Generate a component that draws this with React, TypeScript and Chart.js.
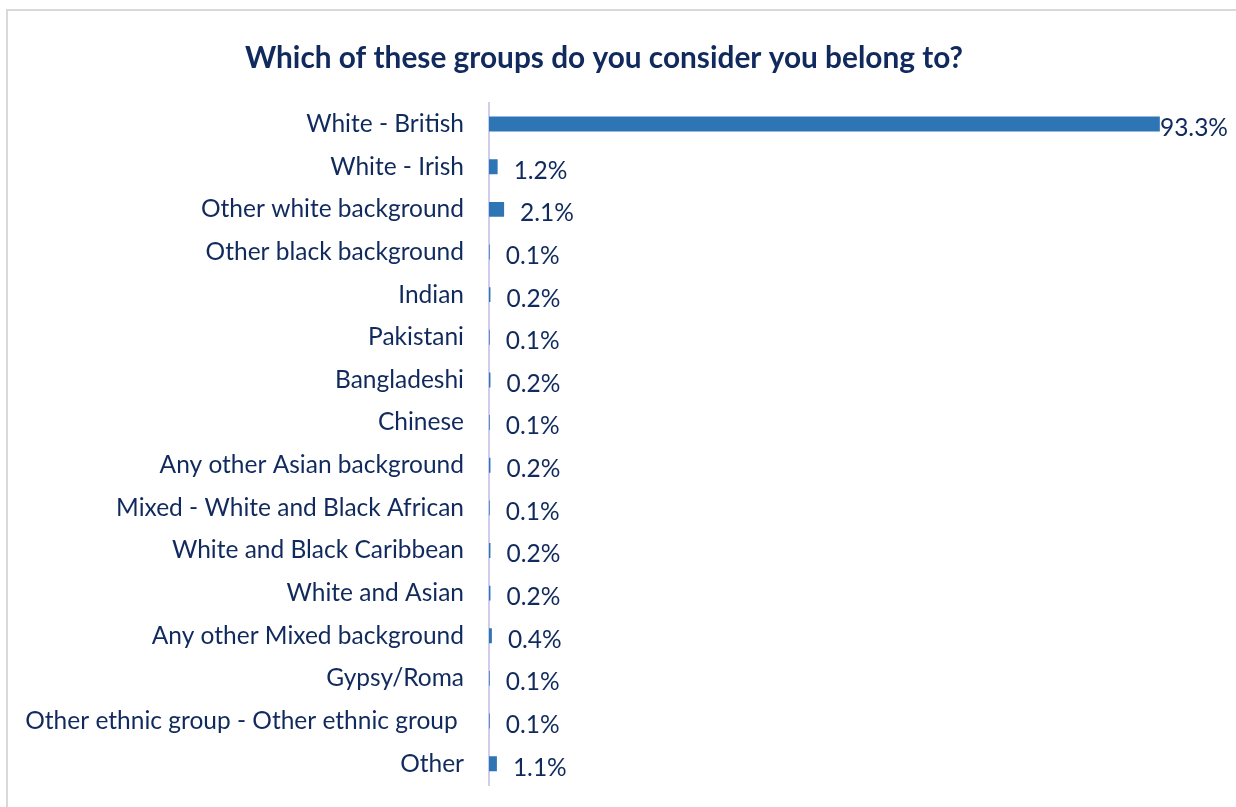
import React, { useEffect, useRef } from "react";
import { Chart, registerables } from "chart.js";

Chart.register(...registerables);

const TITLE = "Which of these groups do you consider you belong to?";
const categories = [
  "White - British",
  "White - Irish",
  "Other white background",
  "Other black background",
  "Indian",
  "Pakistani",
  "Bangladeshi",
  "Chinese",
  "Any other Asian background",
  "Mixed - White and Black African",
  "White and Black Caribbean",
  "White and Asian",
  "Any other Mixed background",
  "Gypsy/Roma",
  "Other ethnic group - Other ethnic group ",
  "Other",
];
const values = [93.3, 1.2, 2.1, 0.1, 0.2, 0.1, 0.2, 0.1, 0.2, 0.1, 0.2, 0.2, 0.4, 0.1, 0.1, 1.1];

const TEXT = "#112A5E";
const BAR = "#2E75B6";
const FONT = "Lato, 'Open Sans', sans-serif";
const W = 1236;
const H = 807;

export default function App() {
  const ref = useRef<HTMLCanvasElement | null>(null);
  useEffect(() => {
    if (!ref.current) return;
    const borderPlugin = {
      id: "outerBorder",
      beforeDraw(chart: any) {
        const ctx = chart.ctx;
        ctx.save();
        ctx.fillStyle = "#ffffff";
        ctx.fillRect(0, 0, chart.width, chart.height);
        ctx.strokeStyle = "#D9D9D9";
        ctx.lineWidth = 2;
        ctx.strokeRect(7, 10, chart.width + 20, chart.height + 20);
        ctx.restore();
      },
    };
    const labelPlugin = {
      id: "valueLabels",
      afterDatasetsDraw(chart: any) {
        const ctx = chart.ctx;
        const meta = chart.getDatasetMeta(0);
        ctx.save();
        ctx.font = `24.5px ${FONT}`;
        ctx.fillStyle = TEXT;
        ctx.textAlign = "left";
        ctx.textBaseline = "middle";
        meta.data.forEach((el: any, i: number) => {
          const txt = values[i].toFixed(1) + "%";
          const w = ctx.measureText(txt).width;
          let x = el.x + 16;
          if (x + w > chart.width - 8) x = chart.width - 8 - w;
          ctx.fillText(txt, x, el.y + 4);
        });
        ctx.restore();
      },
    };
    const chart = new Chart(ref.current, {
      type: "bar",
      data: {
        labels: categories,
        datasets: [
          {
            data: values,
            backgroundColor: BAR,
            borderWidth: 0,
            barPercentage: 0.35,
            categoryPercentage: 1,
          },
        ],
      },
      options: {
        indexAxis: "y",
        animation: false,
        responsive: false,
        maintainAspectRatio: false,
        devicePixelRatio: 1,
        layout: { padding: { left: 0, right: 28, top: 0, bottom: 22 } },
        plugins: {
          legend: { display: false },
          tooltip: { enabled: false },
          title: {
            display: true,
            text: TITLE,
            color: TEXT,
            font: { family: FONT, size: 29.8, weight: "bold" },
            padding: { top: 41, bottom: 26 },
          },
        },
        scales: {
          x: {
            display: false,
            min: 0,
            max: 100,
          },
          y: {
            grid: { display: false, drawTicks: false },
            border: { display: true, color: "#CFCDEB", width: 2 },
            ticks: {
              color: TEXT,
              font: { family: FONT, size: 24.5 },
              padding: 25,
              autoSkip: false,
            },
            afterFit(scale: any) {
              scale.width = 489;
              scale.paddingTop = 0;
              scale.paddingBottom = 0;
            },
          },
        },
      },
      plugins: [borderPlugin, labelPlugin],
    });
    return () => chart.destroy();
  }, []);
  return (
    <div style={{ position: "fixed", left: 0, top: 0, width: W, height: H, background: "#fff" }}>
      <canvas ref={ref} width={W} height={H} style={{ display: "block", width: W, height: H }} />
    </div>
  );
}
